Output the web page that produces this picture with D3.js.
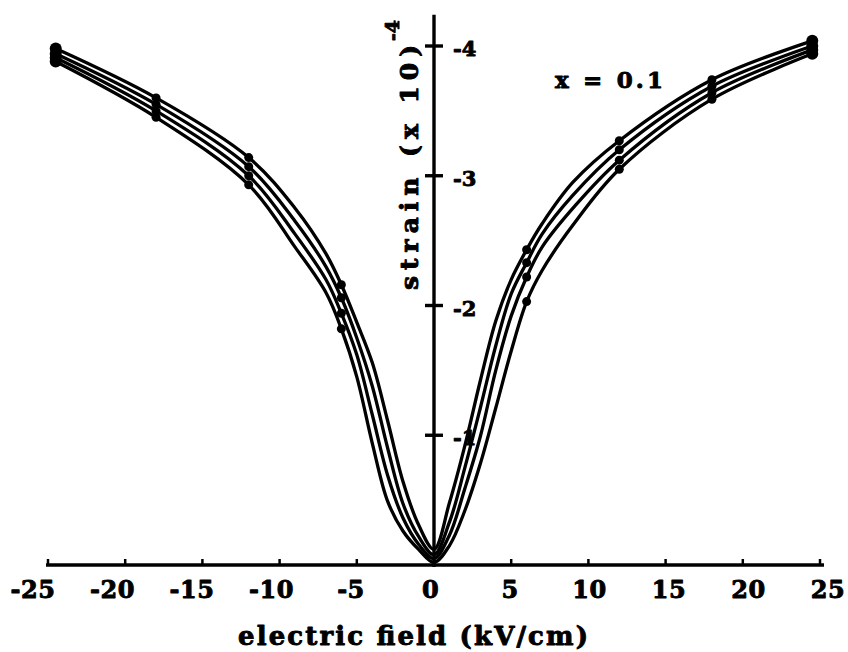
<!DOCTYPE html>
<html>
<head>
<meta charset="utf-8">
<script src="https://cdn.jsdelivr.net/npm/d3@7"></script>
<style>
  html, body { margin: 0; padding: 0; background: #fff; }
  svg { display: block; }
  text { font-family: "DejaVu Serif", "Liberation Serif", serif; font-weight: bold; fill: #000; stroke: #000; stroke-width: 0.9px; stroke-linejoin: round; }
</style>
</head>
<body>
<script>
// ---- data ----
const fieldValues = [-24.5, -18, -12, -9, -7, -6, -5, -4, -3, -2, -1, 0, 1, 2, 3, 4, 5, 6, 7, 9, 12, 18, 24.5];
// strain in units of 1e-4 (negative = compression, plotted upward)
const strainA = [-3.88, -3.45, -2.93, -2.45, -2.10, -1.82, -1.45, -0.94, -0.49, -0.26, -0.12, -0.02, -0.15, -0.42, -0.78, -1.21, -1.65, -2.03, -2.27, -2.62, -3.05, -3.59, -3.94];
const strainB = [-3.91, -3.50, -3.00, -2.55, -2.20, -1.94, -1.62, -1.16, -0.69, -0.36, -0.16, -0.05, -0.23, -0.59, -0.99, -1.50, -1.92, -2.22, -2.45, -2.75, -3.12, -3.64, -3.97];
const strainC = [-3.94, -3.55, -3.07, -2.65, -2.30, -2.06, -1.75, -1.38, -0.90, -0.47, -0.22, -0.08, -0.33, -0.75, -1.21, -1.69, -2.09, -2.33, -2.55, -2.85, -3.20, -3.69, -4.00];
const strainD = [-3.98, -3.60, -3.14, -2.75, -2.40, -2.16, -1.87, -1.56, -1.11, -0.64, -0.31, -0.12, -0.48, -0.92, -1.42, -1.88, -2.20, -2.43, -2.63, -2.95, -3.27, -3.74, -4.04];
const seriesList = [strainA, strainB, strainC, strainD];
const markerFields = [-24.5, -18, -12, -6, 6, 12, 18, 24.5];
const xTickValues = [-25, -20, -15, -10, -5, 0, 5, 10, 15, 20, 25];
const yTickValues = [-1, -2, -3, -4];
const xTitle = "electric field (kV/cm)";
const yTitle = "strain (x 10)";
const yTitleSup = "-4";
const annotation = "x = 0.1";

// ---- layout ----
const W = 848, H = 652;
const svg = d3.select("body").append("svg").attr("width", W).attr("height", H);

const x = d3.scaleLinear().domain([-25, 25]).range([48, 820]);
const xLabel = d3.scaleLinear().domain([-25, 25]).range([33, 828]);
const y = d3.scaleLinear().domain([0, -4]).range([565, 46]);

// x axis line
svg.append("line")
  .attr("x1", x(-25) - 2).attr("x2", x(25) + 4)
  .attr("y1", y(0)).attr("y2", y(0))
  .attr("stroke", "#000").attr("stroke-width", 3.4);
// x ticks (small upward)
svg.selectAll(".xt").data(xTickValues.filter(d => d !== 0)).enter().append("line")
  .attr("x1", d => x(d)).attr("x2", d => x(d))
  .attr("y1", y(0)).attr("y2", y(0) - 6)
  .attr("stroke", "#000").attr("stroke-width", 2.5);
// x tick labels
svg.selectAll(".xl").data(xTickValues).enter().append("text")
  .attr("x", d => xLabel(d)).attr("y", 598)
  .attr("text-anchor", "middle").attr("font-size", 24)
  .attr("letter-spacing", 0.5)
  .text(d => d);
// x title
svg.append("text").attr("x", 238).attr("y", 645)
  .attr("font-size", 26)
  .attr("textLength", 350).attr("lengthAdjust", "spacing")
  .text(xTitle);

// y axis line
svg.append("line")
  .attr("x1", x(0)).attr("x2", x(0))
  .attr("y1", y(0) + 2).attr("y2", y(-4.24))
  .attr("stroke", "#000").attr("stroke-width", 3.4);
// y ticks
svg.selectAll(".yt").data(yTickValues).enter().append("line")
  .attr("x1", x(0) - 9).attr("x2", x(0) + 9)
  .attr("y1", d => y(d)).attr("y2", d => y(d))
  .attr("stroke", "#000").attr("stroke-width", 3.4);
svg.selectAll(".yl").data(yTickValues).enter().append("text")
  .attr("x", x(0) + 19).attr("y", d => y(d) + 10)
  .attr("font-size", 21)
  .text(d => d);

// y title (rotated)
const yt = svg.append("text")
  .attr("transform", `translate(418,290) rotate(-90)`)
  .attr("font-size", 25);
yt.append("tspan").attr("textLength", 245).attr("lengthAdjust", "spacing").text(yTitle);
yt.append("tspan").attr("dy", -19).attr("dx", -2).attr("font-size", 19).text(yTitleSup);

// annotation
svg.append("text").attr("x", 555).attr("y", 88).attr("font-size", 23)
  .attr("textLength", 108).attr("lengthAdjust", "spacing").text(annotation);

// curves
const line = d3.line()
  .x((d, i) => x(fieldValues[i]))
  .y(d => y(d))
  .curve(d3.curveCatmullRom.alpha(0.5));

seriesList.forEach(s => {
  svg.append("path").datum(s)
    .attr("d", line)
    .attr("fill", "none").attr("stroke", "#000").attr("stroke-width", 3.3)
    .attr("stroke-linejoin", "round");
  const pts = markerFields.map(f => [f, s[fieldValues.indexOf(f)]]);
  svg.selectAll(null).data(pts).enter().append("circle")
    .attr("cx", d => x(d[0])).attr("cy", d => y(d[1]))
    .attr("r", d => Math.abs(d[0]) > 24 ? 6 : 4.5)
    .attr("fill", "#000");
});
</script>
</body>
</html>
